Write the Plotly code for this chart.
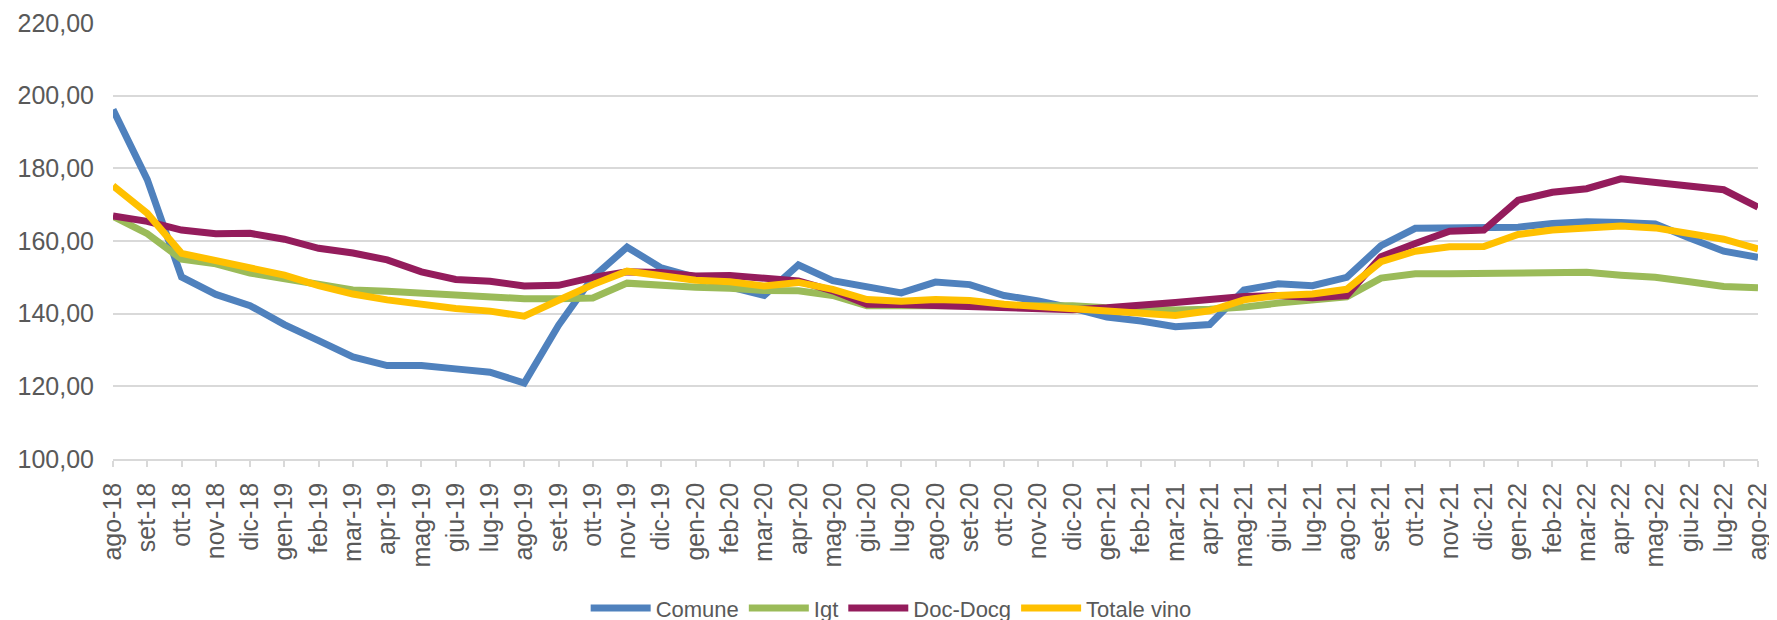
import plotly.graph_objects as go

months = ["ago-18","set-18","ott-18","nov-18","dic-18","gen-19","feb-19","mar-19","apr-19","mag-19",
          "giu-19","lug-19","ago-19","set-19","ott-19","nov-19","dic-19","gen-20","feb-20","mar-20",
          "apr-20","mag-20","giu-20","lug-20","ago-20","set-20","ott-20","nov-20","dic-20","gen-21",
          "feb-21","mar-21","apr-21","mag-21","giu-21","lug-21","ago-21","set-21","ott-21","nov-21",
          "dic-21","gen-22","feb-22","mar-22","apr-22","mag-22","giu-22","lug-22","ago-22"]

comune = [196.2, 176.9, 150.1, 145.3, 142.2, 137.0, 132.6, 128.1, 125.7, 125.7, 124.8, 123.9, 120.9,
          136.8, 150.0, 158.3, 152.6, 149.8, 147.4, 145.0, 153.4, 149.1, 147.2, 145.7, 148.7, 148.0,
          145.0, 143.5, 141.5, 139.1, 138.0, 136.4, 137.0, 146.5, 148.2, 147.7, 150.0, 158.7, 163.5,
          163.5, 163.7, 163.8, 164.8, 165.3, 165.1, 164.7, 160.8, 157.2, 155.5]
igt = [166.8, 162.0, 155.0, 153.7, 151.2, 149.6, 147.7, 146.5, 146.2, 145.6, 145.0, 144.3, 144.1,
       144.1, 144.3, 148.4, 147.7, 147.3, 147.0, 146.4, 146.3, 145.0, 142.2, 142.2, 142.6, 142.6,
       142.6, 142.4, 142.2, 141.6, 141.3, 141.0, 141.2, 141.8, 142.9, 143.6, 144.6, 149.8, 151.0,
       151.0, 151.2, 151.2, 151.3, 151.4, 150.6, 150.0, 148.8, 147.5, 147.1]
doc_docg = [166.9, 165.4, 163.0, 162.0, 162.1, 160.5, 158.0, 156.7, 154.8, 151.5, 149.4, 148.9, 147.6,
            147.8, 150.0, 151.5, 151.3, 150.4, 150.5, 149.6, 149.0, 146.3, 142.6, 142.5, 142.2, 141.6,
            141.3, 141.0, 141.1, 141.6, 142.2, 143.1, 143.9, 144.7, 145.0, 144.4, 145.0, 155.7, 159.3,
            162.7, 163.0, 171.2, 173.4, 174.4, 177.1, 176.1, 174.7, 174.1, 169.3]
totale = [175.2, 167.6, 156.6, 154.6, 153.0, 150.6, 147.7, 145.4, 143.8, 142.5, 141.4, 140.7, 139.3,
          143.7, 148.0, 151.7, 150.5, 149.2, 148.8, 147.6, 148.6, 146.7, 143.9, 143.4, 143.9, 143.6,
          142.6, 142.0, 141.6, 140.6, 140.0, 139.5, 140.8, 143.8, 145.0, 145.4, 146.7, 154.3, 157.2,
          158.4, 158.5, 161.8, 163.0, 163.5, 164.1, 163.6, 162.0, 160.5, 157.8]

series = [("Comune", comune, "#4F81BD"),
          ("Igt", igt, "#9BBB59"),
          ("Doc-Docg", doc_docg, "#941C5C"),
          ("Totale vino", totale, "#FFC000")]

y_ticks = [100, 120, 140, 160, 180, 200, 220]

fig = go.Figure()
for name, vals, col in series:
    fig.add_trace(go.Scatter(x=months, y=vals, name=name, mode="lines",
                             line=dict(color=col, width=7, shape="linear")))

# page has an 8px body margin, so the figure is offset by (8, 8) in the window
fig.update_layout(
    width=1777, height=620,
    margin=dict(l=105, r=27, t=15, b=169, autoexpand=False),
    paper_bgcolor="white", plot_bgcolor="white",
    separators=",.",
    font=dict(family="Liberation Sans, Arial, sans-serif", color="#595959", size=25),
    showlegend=True,
    legend=dict(orientation="h", xref="container", yref="container",
                x=0.497, xanchor="center", y=0.032, yanchor="middle",
                font=dict(family="Liberation Sans, Arial, sans-serif", size=22, color="#595959"),
                itemwidth=60, bgcolor="rgba(0,0,0,0)"),
)
fig.update_xaxes(type="category", range=[0, len(months) - 1], tickangle=-90, automargin=False,
                 showgrid=False, showline=True, linecolor="#D9D9D9", linewidth=1.5,
                 ticks="outside", ticklen=6, tickcolor="#D9D9D9", tickwidth=1.5,
                 ticklabelstandoff=6,
                 tickfont=dict(size=25, color="#595959"), zeroline=False)
fig.update_yaxes(range=[100, 220], tickvals=y_ticks, tickformat=".2f", automargin=False,
                 showgrid=True, gridcolor="#D9D9D9", gridwidth=1.5,
                 showline=False, zeroline=False, ticks="", ticklabelstandoff=18,
                 tickfont=dict(size=25, color="#595959"))

fig.write_html("out.html")
